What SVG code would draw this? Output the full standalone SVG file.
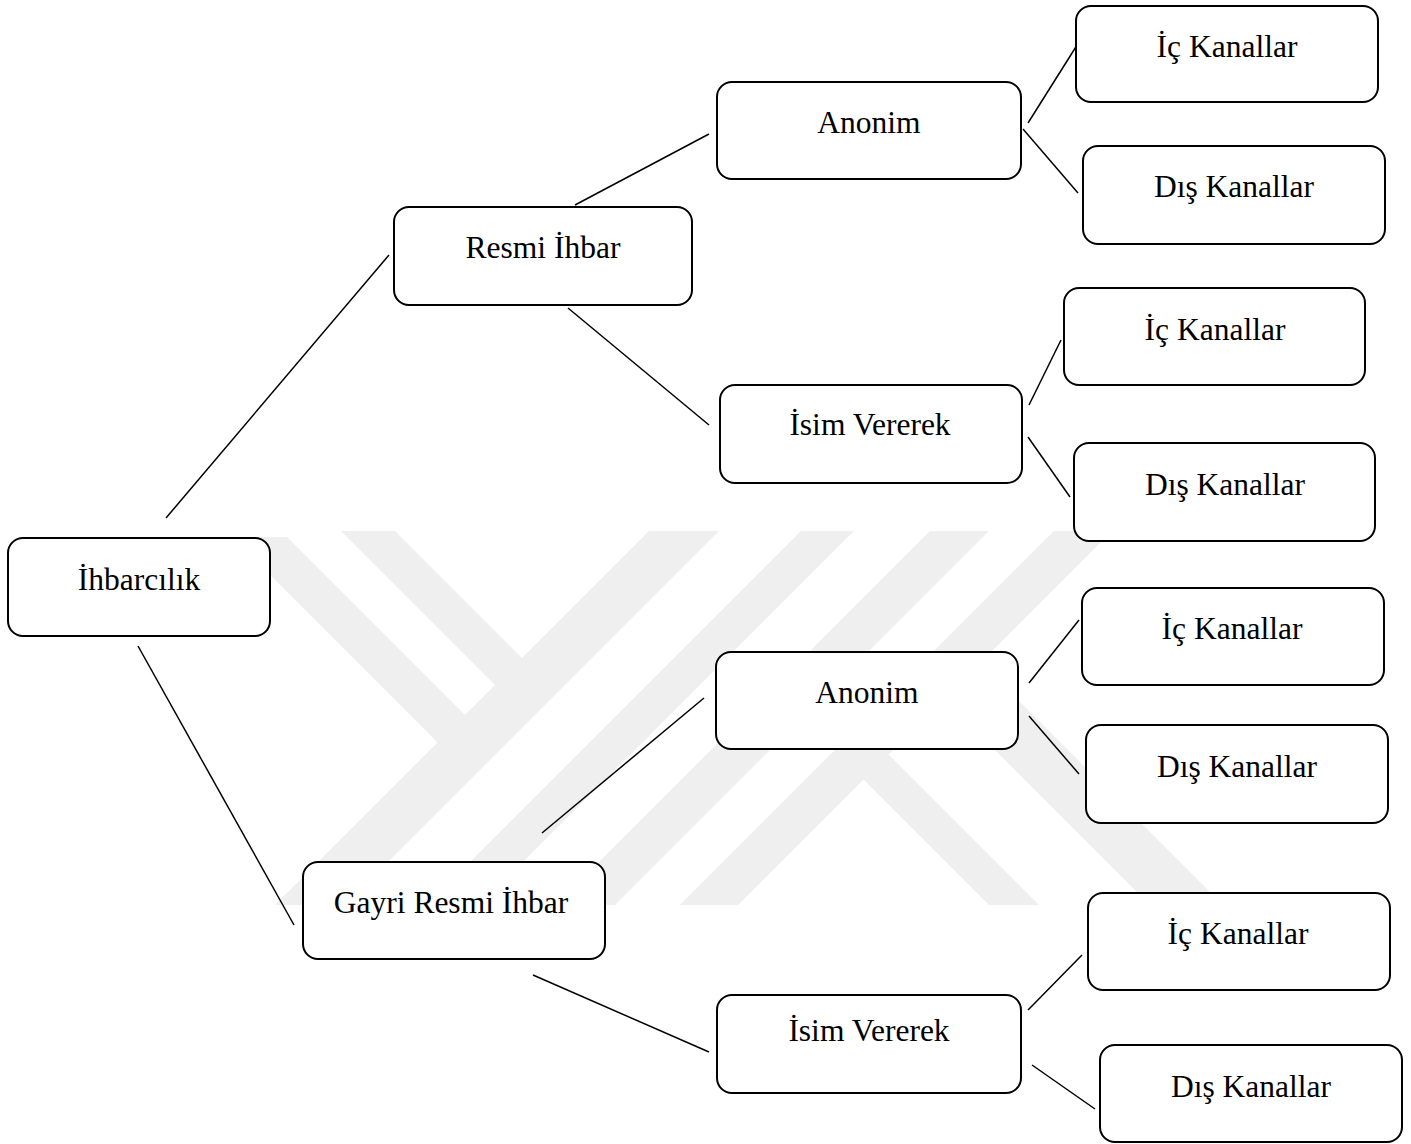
<svg xmlns="http://www.w3.org/2000/svg" width="1411" height="1144" viewBox="0 0 1411 1144">
  <style>
    .node rect { fill: #ffffff; stroke: #000000; stroke-width: 2; }
    .node text { font-family: "Liberation Serif", "Times New Roman", serif; font-size: 31.5px; fill: #000000; text-anchor: middle; }
    .links line { stroke: #000000; stroke-width: 1.5; fill: none; }
    .mark polygon { fill: #efefef; stroke: none; }
  </style>

  <rect x="0" y="0" width="1411" height="1144" fill="#ffffff"/>

  <!-- light grey striped emblem in the background -->
  <g class="mark">
    <polygon points="649,531 719,531 345,905 275,905"/>
    <polygon points="341,531 395,531 532,668 505,695"/>
    <polygon points="232,537 287,537 475,725 447.5,752.5"/>
    <polygon points="801,531 854,531 480,905 427,905"/>
    <polygon points="930,531 989,531 615,905 556,905"/>
    <polygon points="1054,531 1112,531 738,905 680,905"/>
    <polygon points="854.5,770.5 879.5,745.5 1039,905 989,905"/>
    <polygon points="935,690 971.5,653.5 1223,905 1150,905"/>
  </g>

  <!-- connectors -->
  <g class="links">
    <line x1="166" y1="518" x2="389" y2="255"/>
    <line x1="138" y1="646" x2="294" y2="925"/>
    <line x1="575" y1="205" x2="709" y2="134"/>
    <line x1="568" y1="308" x2="709" y2="425"/>
    <line x1="1028" y1="123" x2="1079" y2="42"/>
    <line x1="1023" y1="129" x2="1078" y2="193"/>
    <line x1="1029" y1="405" x2="1061" y2="340"/>
    <line x1="1028" y1="437" x2="1070" y2="497"/>
    <line x1="542" y1="833" x2="704" y2="698"/>
    <line x1="533" y1="975" x2="709" y2="1052"/>
    <line x1="1029" y1="683" x2="1079" y2="620"/>
    <line x1="1029" y1="716" x2="1079" y2="774"/>
    <line x1="1028" y1="1010" x2="1082" y2="955"/>
    <line x1="1032" y1="1065" x2="1095" y2="1109"/>
  </g>

  <!-- nodes -->
  <g id="ihbarcilik" class="node">
    <rect x="8" y="538" width="262" height="98" rx="15"/>
    <text x="139" y="590">İhbarcılık</text>
  </g>
  <g id="resmi-ihbar" class="node">
    <rect x="394" y="207" width="298" height="98" rx="15"/>
    <text x="543" y="258">Resmi İhbar</text>
  </g>
  <g id="gayri-resmi-ihbar" class="node">
    <rect x="303" y="862" width="302" height="97" rx="15"/>
    <text x="451" y="913">Gayri Resmi İhbar</text>
  </g>

  <g id="resmi-anonim" class="node">
    <rect x="717" y="82" width="304" height="97" rx="15"/>
    <text x="869" y="133">Anonim</text>
  </g>
  <g id="resmi-isim-vererek" class="node">
    <rect x="720" y="385" width="302" height="98" rx="15"/>
    <text x="870" y="435">İsim Vererek</text>
  </g>
  <g id="gayri-anonim" class="node">
    <rect x="716" y="652" width="302" height="97" rx="15"/>
    <text x="867" y="703">Anonim</text>
  </g>
  <g id="gayri-isim-vererek" class="node">
    <rect x="717" y="995" width="304" height="98" rx="15"/>
    <text x="869" y="1041">İsim Vererek</text>
  </g>

  <g id="resmi-anonim-ic" class="node">
    <rect x="1076" y="6" width="302" height="96" rx="15"/>
    <text x="1227" y="57">İç Kanallar</text>
  </g>
  <g id="resmi-anonim-dis" class="node">
    <rect x="1083" y="146" width="302" height="98" rx="15"/>
    <text x="1234" y="197">Dış Kanallar</text>
  </g>
  <g id="resmi-isim-ic" class="node">
    <rect x="1064" y="288" width="301" height="97" rx="15"/>
    <text x="1215" y="340">İç Kanallar</text>
  </g>
  <g id="resmi-isim-dis" class="node">
    <rect x="1074" y="443" width="301" height="98" rx="15"/>
    <text x="1225" y="495">Dış Kanallar</text>
  </g>
  <g id="gayri-anonim-ic" class="node">
    <rect x="1082" y="588" width="302" height="97" rx="15"/>
    <text x="1232" y="639">İç Kanallar</text>
  </g>
  <g id="gayri-anonim-dis" class="node">
    <rect x="1086" y="725" width="302" height="98" rx="15"/>
    <text x="1237" y="777">Dış Kanallar</text>
  </g>
  <g id="gayri-isim-ic" class="node">
    <rect x="1088" y="893" width="302" height="97" rx="15"/>
    <text x="1238" y="944">İç Kanallar</text>
  </g>
  <g id="gayri-isim-dis" class="node">
    <rect x="1100" y="1045" width="302" height="97" rx="15"/>
    <text x="1251" y="1097">Dış Kanallar</text>
  </g>
</svg>
